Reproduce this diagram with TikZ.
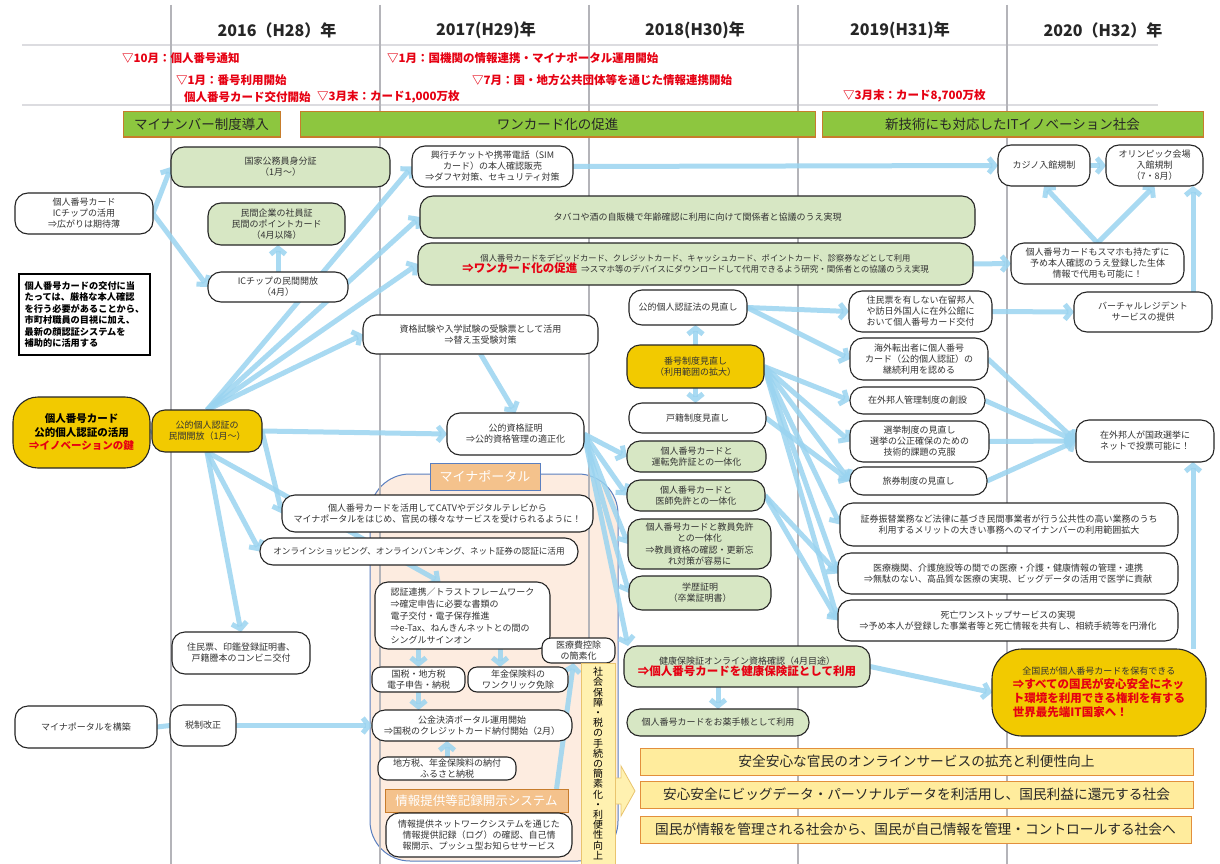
\documentclass[tikz,border=0pt]{standalone}
\usepackage{fontspec}
\setmainfont{Noto Sans CJK JP}
\usetikzlibrary{arrows.meta}
\definecolor{c333333}{RGB}{51,51,51}
\definecolor{c262626}{RGB}{38,38,38}
\definecolor{cd7e7c4}{RGB}{215,231,196}
\definecolor{cf2ca00}{RGB}{242,202,0}
\definecolor{c8dc63f}{RGB}{141,198,63}
\definecolor{cc77c2c}{RGB}{199,124,44}
\definecolor{cffec9d}{RGB}{255,236,157}
\definecolor{ce28f3c}{RGB}{226,143,60}
\definecolor{cfdece0}{RGB}{253,236,224}
\definecolor{c5a7fc0}{RGB}{90,127,192}
\definecolor{cf4c28c}{RGB}{244,194,140}
\definecolor{c9ad4f0}{RGB}{154,212,240}
\definecolor{ce60012}{RGB}{230,0,18}
\definecolor{cb4b4b9}{RGB}{180,180,185}
\definecolor{cdcdce0}{RGB}{220,220,224}
\definecolor{cfff1b0}{RGB}{255,241,176}
\definecolor{ce9c46e}{RGB}{233,196,110}
\pgfdeclarelayer{back}
\pgfdeclarelayer{lines}
\pgfsetlayers{back,lines,main}

\begin{document}
\begin{tikzpicture}[y=-1pt, x=1pt, inner sep=0pt, outer sep=0pt,
  sz/.style 2 args={minimum width=#1, minimum height=#2},
  box/.style={draw=c262626, fill=white, line width=1.1pt, rounded corners=13pt, align=center, text=c333333, font=\fontsize{9}{11}\selectfont},
  gbox/.style={box, fill=cd7e7c4},
  ybox/.style={box, fill=cf2ca00},
  year/.style={text=c262626, font=\bfseries\fontsize{16}{18}\selectfont},
  mile/.style={anchor=west, text=ce60012, font=\bfseries\fontsize{11.5}{13}\selectfont},
  bar/.style={draw=cc77c2c, fill=c8dc63f, line width=1pt, text=c262626, font=\fontsize{13.5}{15}\selectfont},
  soc/.style={draw=ce28f3c, fill=cffec9d, line width=1pt, text=c262626, font=\fontsize{13.7}{15}\selectfont},
  tag/.style={draw=c5a7fc0, fill=cf4c28c, line width=1pt, text=white, font=\fontsize{13}{15}\selectfont},
  grid/.style={draw=cb4b4b9, line width=1.5pt},
  arr/.style={draw=c9ad4f0, draw opacity=0.85, line width=5pt, -{Straight Barb[length=6pt,width=15pt]}},
  link/.style={draw=c9ad4f0, draw opacity=0.85, line width=5pt},
  red/.style={text=ce60012, font=\bfseries\fontsize{11.5}{14}\selectfont}]
\useasboundingbox (0,0) rectangle (1220,864);

\begin{pgfonlayer}{back}
  \path[fill=white] (0,0) rectangle (1220,864);
  \path[draw=c5a7fc0, fill=cfdece0, line width=1pt, rounded corners=40pt] (370,474) rectangle (618,861);
  \path[draw=cdcdce0, line width=2pt] (22,45) -- (1158,45);
  \path[draw=cdcdce0, line width=2pt] (22,105) -- (1158,105);
  \path[grid] (171,5) -- (171,864);
  \path[grid] (380,5) -- (380,864);
  \path[grid] (589,5) -- (589,864);
  \path[grid] (798,5) -- (798,864);
  \path[grid] (1007,5) -- (1007,864);
\end{pgfonlayer}

% years and milestones
\node[year] (y2016) at (277,30) {2016（H28）年};
\node[year] (y2017) at (486,30) {2017(H29)年};
\node[year] (y2018) at (695,30) {2018(H30)年};
\node[year] (y2019) at (900,30) {2019(H31)年};
\node[year] (y2020) at (1103,30) {2020（H32）年};

\node[mile] (ms1) at (122,58) {▽10月：個人番号通知};
\node[mile] (ms2) at (176,80) {▽1月：番号利用開始};
\node[mile] (ms3) at (184,97) {個人番号カード交付開始};
\node[mile] (ms4) at (317,97) {▽3月末：カード1,000万枚};
\node[mile] (ms5) at (387,58) {▽1月：国機関の情報連携・マイナポータル運用開始};
\node[mile] (ms6) at (472,80) {▽7月：国・地方公共団体等を通じた情報連携開始};
\node[mile] (ms7) at (843,96) {▽3月末：カード8,700万枚};

\node[bar, sz={157}{25}] (intro) at (201.5,124.5) {マイナンバー制度導入};
\node[bar, sz={515}{25}] (onecard) at (557.5,124.5) {ワンカード化の促進};
\node[bar, sz={381}{25}] (itsoc) at (1012.5,124.5) {新技術にも対応したITイノベーション社会};

% left column
\node[box, sz={138}{41}] (ic) at (84,213.5) {個人番号カード\\ICチップの活用\\⇒広がりは期待薄};
\node[draw=black, fill=white, line width=2.5pt, sz={131}{81}, align=left, text=black, font=\bfseries\fontsize{9.2}{11.5}\selectfont] (note) at (84.5,314.5) {個人番号カードの交付に当\\たっては、厳格な本人確認\\を行う必要があることから、\\市町村職員の目視に加え、\\最新の顔認証システムを\\補助的に活用する};
\node[ybox, sz={137}{71}, rounded corners=25pt, text=black, font=\bfseries\fontsize{10.5}{13.5}\selectfont] (key) at (81.5,432.5) {個人番号カード\\公的個人認証の活用\\\textcolor{ce60012}{⇒イノベーションの鍵}};
\node[box, sz={142}{42}] (build) at (86,727) {マイナポータルを構築};

% 2016
\node[gbox, sz={219}{40}] (kokka) at (280.5,167) {国家公務員身分証\\（1月～）};
\node[gbox, sz={137}{42}] (minkan) at (276.5,224) {民間企業の社員証\\民間のポイントカード\\（4月以降）};
\node[box, sz={140}{30}] (icopen) at (278,287) {ICチップの民間開放\\（4月）};
\node[ybox, sz={110}{42}] (jpki) at (207,431) {公的個人認証の\\民間開放（1月～）};
\node[box, sz={138}{42}] (conv) at (241,653) {住民票、印鑑登録証明書、\\戸籍謄本のコンビニ交付};
\node[box, sz={66}{41}] (tax) at (203,725.5) {税制改正};

% 2017
\node[box, sz={161}{41}] (ticket) at (492.5,166.5) {興行チケットや携帯電話（SIM\\カード）の本人確認販売\\⇒ダフヤ対策、セキュリティ対策};
\node[gbox, sz={555}{42}] (tobacco) at (697.5,217) {タバコや酒の自販機で年齢確認に利用に向けて関係者と協議のうえ実現};
\node[gbox, sz={555}{42}] (debit) at (695.5,264) {{\fontsize{8.3}{11}\selectfont 個人番号カードをデビッドカード、クレジットカード、キャッシュカード、ポイントカード、診察券などとして利用}\\\textcolor{ce60012}{\bfseries\fontsize{11.5}{15}\selectfont ⇒ワンカード化の促進}\ \ {\fontsize{8.5}{11}\selectfont ⇒スマホ等のデバイスにダウンロードして代用できるよう研究・関係者との協議のうえ実現}};
\node[box, sz={235}{39}] (exam) at (480.5,334.5) {資格試験や入学試験の受験票として活用\\⇒替え玉受験対策};
\node[box, sz={137}{42}] (qual) at (515.5,434) {公的資格証明\\⇒公的資格管理の適正化};

% mynaportal
\node[tag, sz={110}{27}] (portal) at (485,476.5) {マイナポータル};
\node[box, sz={311}{37}] (catv) at (437.5,513.5) {個人番号カードを活用してCATVやデジタルテレビから\\マイナポータルをはじめ、官民の様々なサービスを受けられるように！};
\node[box, sz={318}{27}, font=\fontsize{8.6}{11}\selectfont] (online) at (419,551.5) {オンラインショッピング、オンラインバンキング、ネット証券の認証に活用};
\node[box, sz={175}{67}, align=left, font=\fontsize{9}{12}\selectfont] (trust) at (462.5,615.5) {認証連携／トラストフレームワーク\\⇒確定申告に必要な書類の\\電子交付・電子保存推進\\⇒e-Tax、ねんきんネットとの間の\\シングルサインオン};
\node[box, sz={73}{25}, rounded corners=9pt] (medded) at (578.5,650.5) {医療費控除\\の簡素化};
\node[box, sz={93}{25}, rounded corners=9pt] (ntax) at (418.5,679.5) {国税・地方税\\電子申告・納税};
\node[box, sz={100}{25}, rounded corners=9pt] (pension) at (518,679.5) {年金保険料の\\ワンクリック免除};
\node[box, sz={200}{31}] (kokin) at (472,725.5) {公金決済ポータル運用開始\\⇒国税のクレジットカード納付開始（2月）};
\node[box, sz={138}{23}, rounded corners=9pt] (local) at (447,768.5) {地方税、年金保険料の納付\\ふるさと納税};
\node[tag, sz={183}{23}, draw=cc77c2c, font=\fontsize{12.5}{14}\selectfont] (infolabel) at (476.5,800.5) {情報提供等記録開示システム};
\node[box, sz={186}{44}] (infosys) at (479,835) {情報提供ネットワークシステムを通じた\\情報提供記録（ログ）の確認、自己情\\報開示、プッシュ型お知らせサービス};
\path[draw=ce9c46e, fill=cfff1b0, line width=0.8pt] (612,778) -- (621,778) -- (621,766) -- (635,791) -- (621,816) -- (621,804) -- (612,804) -- cycle;
\node[draw=ce9c46e, fill=cfff1b0, line width=0.6pt, sz={34}{201}, align=center, text=black, font=\fontsize{10}{10.2}\selectfont] (vbar) at (598,763.5) {社\\会\\保\\障\\・\\税\\の\\手\\続\\の\\簡\\素\\化\\・\\利\\便\\性\\向\\上};

% 2018
\node[box, sz={118}{35}] (pubjpki) at (688,307.5) {公的個人認証法の見直し};
\node[ybox, sz={137}{43}] (numrev) at (695.5,366.5) {番号制度見直し\\（利用範囲の拡大）};
\node[box, sz={137}{30}] (koseki) at (697.5,418) {戸籍制度見直し};
\node[gbox, sz={139}{31}] (drive) at (696.5,456.5) {個人番号カードと\\運転免許証との一体化};
\node[gbox, sz={138}{31}] (doctor) at (696,495.5) {個人番号カードと\\医師免許との一体化};
\node[gbox, sz={143}{50}, font=\fontsize{9}{11.2}\selectfont] (teacher) at (699.5,544) {個人番号カードと教員免許\\との一体化\\⇒教員資格の確認・更新忘\\れ対策が容易に};
\node[gbox, sz={142}{34}] (edu) at (700,593) {学歴証明\\（卒業証明書）};
\node[gbox, sz={246}{41}] (health) at (747,666.5) {健康保険証オンライン資格確認（4月目途）\\\textcolor{ce60012}{\bfseries\fontsize{11.5}{14}\selectfont ⇒個人番号カードを健康保険証として利用}};
\node[gbox, sz={182}{27}] (okusuri) at (718,722.5) {個人番号カードをお薬手帳として利用};

% 2019
\node[box, sz={143}{41}] (nores) at (920.5,311.5) {住民票を有しない在留邦人\\や訪日外国人に在外公館に\\おいて個人番号カード交付};
\node[box, sz={138}{42}] (abroad) at (919,359) {海外転出者に個人番号\\カード（公的個人認証）の\\継続利用を認める};
\node[box, sz={135}{27}] (zaigai) at (917.5,400.5) {在外邦人管理制度の創設};
\node[box, sz={139}{41}] (election) at (919.5,441.5) {選挙制度の見直し\\選挙の公正確保のための\\技術的課題の克服};
\node[box, sz={137}{28}] (passport) at (918.5,481) {旅券制度の見直し};
\node[box, sz={338}{43}] (securities) at (1009,524.5) {証券振替業務など法律に基づき民間事業者が行う公共性の高い業務のうち\\利用するメリットの大きい事務へのマイナンバーの利用範囲拡大};
\node[box, sz={340}{41}] (medical) at (1008,573.5) {医療機関、介護施設等の間での医療・介護・健康情報の管理・連携\\⇒無駄のない、高品質な医療の実現、ビッグデータの活用で医学に貢献};
\node[box, sz={340}{41}] (death) at (1008,620.5) {死亡ワンストップサービスの実現\\⇒予め本人が登録した事業者等と死亡情報を共有し、相続手続等を円滑化};
\node[ybox, sz={214}{87}, rounded corners=30pt, align=left, red] (goal) at (1099,692.5) {\makebox[172pt][c]{\mdseries\color{c333333}\fontsize{9}{12}\selectfont 全国民が個人番号カードを保有できる}\\⇒すべての国民が安心安全にネッ\\ト環境を利用できる権利を有する\\世界最先端IT国家へ！};

% 2020
\node[box, sz={92}{41}] (casino) at (1044,165.5) {カジノ入館規制};
\node[box, sz={97}{41}] (olympic) at (1154.5,165.5) {オリンピック会場\\入館規制\\（7・8月）};
\node[box, sz={173}{41}] (bio) at (1097.5,263.5) {個人番号カードもスマホも持たずに\\予め本人確認のうえ登録した生体\\情報で代用も可能に！};
\node[box, sz={138}{40}] (virtual) at (1143,312) {バーチャルレジデント\\サービスの提供};
\node[box, sz={138}{42}] (vote) at (1145,441) {在外邦人が国政選挙に\\ネットで投票可能に！};

% society bars
\node[soc, sz={553}{27}] (soc1) at (916.5,761.5) {安全安心な官民のオンラインサービスの拡充と利便性向上};
\node[soc, sz={553}{27}] (soc2) at (916.5,794.5) {安心安全にビッグデータ・パーソナルデータを利活用し、国民利益に還元する社会};
\node[soc, sz={551}{27}] (soc3) at (915.5,829.5) {国民が情報を管理される社会から、国民が自己情報を管理・コントロールする社会へ};

\begin{pgfonlayer}{lines}
  \path[arr] (ic.east) -- (kokka.west);
  \path[arr] (ic.east) -- (icopen.west);
  \path[arr] (icopen.north) -- (icopen.north |- minkan.south);
  \path[link] (key.east) -- (jpki.west);
  \path[arr] (jpki.north) -- (ticket.west);
  \path[arr] (jpki.north) -- (tobacco.west);
  \path[arr] (jpki.north) -- (debit.west);
  \path[arr] (jpki.north) -- (exam.west);
  \path[arr] (jpki.east) -- (qual.west);
  \path[arr] (jpki.east) -- (catv.west);
  \path[arr] (jpki.south) -- (online.west);
  \path[arr] (jpki.south) -- (conv.north);
  \path[arr] (jpki.south) -- ([xshift=-22]trust.north);
  \path[arr] (exam.south) -- (qual.north);
  \path[arr] (qual.east) -- (drive.west);
  \path[arr] (qual.east) -- (doctor.west);
  \path[arr] (qual.east) -- (teacher.west);
  \path[arr] (qual.east) -- (edu.west);
  \path[arr] (qual.east) -- ([xshift=4]health.north west);
  \path[arr] (ticket.east) -- (casino.west);
  \path[arr] (casino.east) -- (olympic.west);
  \path[arr] (debit.east) -- (bio.west);
  \path[arr] (bio.north) -- (casino.south);
  \path[arr] (bio.north) -- (olympic.south);
  \path[arr] ([xshift=50]virtual.north) -- ([xshift=38.5]olympic.south);
  \path[arr] (numrev.north) -- (numrev.north |- pubjpki.south);
  \path[arr] (numrev.south) -- (numrev.south |- koseki.north);
  \path[arr] (pubjpki.east) -- (nores.west);
  \path[arr] (pubjpki.east) -- (abroad.west);
  \path[arr] (numrev.east) -- (zaigai.west);
  \path[arr] (numrev.east) -- (election.west);
  \path[arr] (numrev.east) -- (passport.west);
  \path[arr] (numrev.east) -- (securities.west);
  \path[arr] (numrev.east) -- (medical.west);
  \path[arr] (numrev.east) -- (death.west);
  \path[arr] (koseki.east) -- (passport.west);
  \path[arr] (doctor.east) -- (medical.west);
  \path[arr] (doctor.east) -- (death.west);
  \path[arr] (nores.east) -- (virtual.west);
  \path[arr] (abroad.east) -- (vote.west);
  \path[arr] (zaigai.east) -- (vote.west);
  \path[arr] (election.east) -- (vote.west);
  \path[arr] (passport.east) -- (vote.west);
  \path[arr] ([xshift=-13]goal.north east) -- ([xshift=48]vote.south);
  \path[arr] (health.east) -- (goal.west);
  \path[arr] (okusuri.north |- health.south) -- (okusuri.north);
  \path[link] (build.east) -- (tax.west);
  \path[arr] (tax.east) -- (kokin.west);
  \path[arr] (ntax.north |- trust.south) -- (ntax.north);
  \path[arr] ([xshift=-18]pension.north |- trust.south) -- ([xshift=-18]pension.north);
  \path[arr] ([xshift=-30,yshift=-14]trust.east) -- (medded.north west);
  \path[arr] (ntax.south) -- (ntax.south |- kokin.north);
  \path[arr] (local.north) -- (local.north |- kokin.south);
  \path[arr] ([xshift=80]infolabel.north) -- ([xshift=-5]medded.south);
\end{pgfonlayer}
\end{tikzpicture}
\end{document}
